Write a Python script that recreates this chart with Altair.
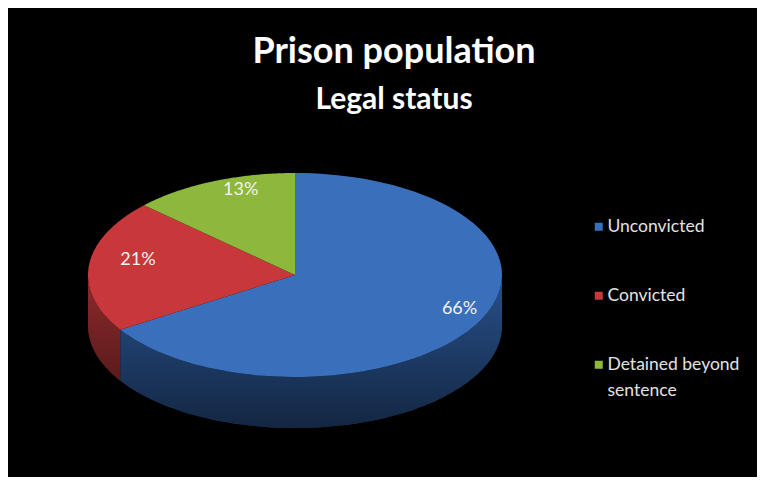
import altair as alt
import pandas as pd

categories = ["Unconvicted", "Convicted", "Detained beyond sentence"]
values = [66, 21, 13]
top_colors = ["#3A6FBC", "#C8383A", "#8DB83D"]
side_colors = ["#2A5592", "#962C2E", "#62862A"]
slice_order = [0, 1, 2]

df = pd.DataFrame({"category": categories, "value": values,
                   "ord": slice_order, "side": side_colors})

xs = alt.Scale(domain=[-1, 1], nice=False, zero=False)
ys = alt.Scale(domain=[-1.5, 1], nice=False, zero=False)

base = alt.Chart(df).transform_window(
    cum="sum(value)", sort=[alt.SortField("ord")], frame=[None, 0]
).transform_joinaggregate(total="sum(value)").transform_calculate(
    s="2*PI*(datum.cum-datum.value)/datum.total",
    e="2*PI*datum.cum/datum.total",
)


def side_band(b):
    return b.transform_filter("datum.e2 > datum.s2").transform_calculate(
        ts="sequence(0, 101, 1)"
    ).transform_flatten(["ts"], as_=["t"]).transform_calculate(
        ang="datum.s2 + (datum.e2-datum.s2)*datum.t/100",
        px="sin(datum.ang)", py="cos(datum.ang)", py2="cos(datum.ang) - 0.5",
    )


side = side_band(base.transform_calculate(
    s2="max(datum.s, PI/2)", e2="min(datum.e, 3*PI/2)"
)).mark_area().encode(
    x=alt.X("px:Q", scale=xs, axis=None),
    y=alt.Y("py:Q", scale=ys, axis=None),
    y2="py2:Q",
    color=alt.Color("side:N", scale=None),
    detail="category:N",
)

shade = side_band(base.transform_filter("datum.ord == 0").transform_calculate(
    s2="PI/2", e2="3*PI/2"
)).mark_area(
    fill=alt.Gradient(
        gradient="linear", x1=0, y1=0, x2=0, y2=1,
        stops=[alt.GradientStop(offset=0, color="rgba(0,0,0,0.05)"),
               alt.GradientStop(offset=0.6, color="rgba(0,0,0,0.35)"),
               alt.GradientStop(offset=1, color="rgba(0,0,0,0.55)")],
    )
).encode(
    x=alt.X("px:Q", scale=xs, axis=None),
    y=alt.Y("py:Q", scale=ys, axis=None),
    y2="py2:Q",
)

wedge = base.transform_calculate(
    ks="sequence(-1, 101, 1)"
).transform_flatten(["ks"], as_=["k"]).transform_calculate(
    ang="datum.s + (datum.e-datum.s)*max(datum.k,0)/100",
    px="datum.k < 0 ? 0 : sin(datum.ang)",
    py="datum.k < 0 ? 0 : cos(datum.ang)",
).mark_line(filled=True).encode(
    x=alt.X("px:Q", scale=xs, axis=None),
    y=alt.Y("py:Q", scale=ys, axis=None),
    color=alt.Color("category:N",
                    scale=alt.Scale(domain=categories, range=top_colors),
                    sort=categories,
                    legend=alt.Legend(
                        title=None, orient="none", legendX=502, legendY=45,
                        symbolType="square", symbolSize=64, symbolStrokeWidth=0,
                        labelFontSize=17.5, labelColor="#e3e3e3", labelFont="Lato",
                        labelOffset=0, rowPadding=50, padding=0, labelLimit=300,
                        labelExpr="datum.label == 'Detained beyond sentence' ? ['Detained beyond', 'sentence'] : datum.label",
                    )),
    order=alt.Order("k:Q"),
)

labels = base.transform_calculate(
    mid="(datum.s + datum.e)/2",
    px="0.83*sin(datum.mid)", py="0.83*cos(datum.mid)",
    lab="datum.value + '%'",
).mark_text(font="Lato", fontSize=18, color="#f2f2f2", dx=14, dy=-7).encode(
    x=alt.X("px:Q", scale=xs, axis=None),
    y=alt.Y("py:Q", scale=ys, axis=None),
    text="lab:N",
)

chart = alt.layer(side, shade, wedge, labels).properties(
    width=414, height=255,
    autosize=alt.AutoSizeParams(type="none"),
    padding={"left": 80, "top": 165, "right": 255, "bottom": 49},
    background="black",
    title=alt.Title(
        text="Prison population", subtitle="Legal status",
        color="white", subtitleColor="white",
        font="Lato", subtitleFont="Lato",
        fontSize=36, subtitleFontSize=30,
        fontWeight="bold", subtitleFontWeight="bold",
        anchor="middle", frame="group", dx=99, offset=57, subtitlePadding=14,
    ),
).configure(style={"guide-label": {"lineHeight": 26}}).configure_view(stroke=None)

chart.save("out.html", embed_options={"renderer": "svg", "actions": False})
